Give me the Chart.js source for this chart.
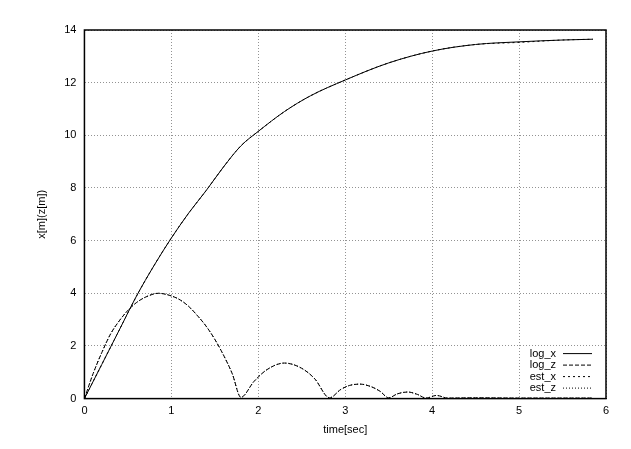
<!DOCTYPE html>
<html><head><meta charset="utf-8">
<script src="https://cdn.jsdelivr.net/npm/chart.js@4/dist/chart.umd.min.js"></script>
<style>html,body{margin:0;background:#fff}</style></head>
<body><canvas id="c" width="631" height="449"></canvas>
<script>
const xT=[0,0.2,0.4,0.6,0.8,1.0,1.2,1.4,1.6,1.8,2.0,2.3,2.6,3.0,3.5,4.0,4.5,5.0,5.5,5.85];
const logX=[0,1.3,2.6,3.9,5.05,6.1,7.05,7.9,8.8,9.6,10.15,10.9,11.5,12.1,12.75,13.2,13.45,13.55,13.62,13.65];
const estX=[0,1.3,2.6,3.9,5.05,6.1,7.05,7.9,8.8,9.6,10.15,10.9,11.5,12.1,12.75,13.2,13.45,13.53,13.62,13.65];
const zT=[0,0.1,0.2,0.3,0.4,0.5,0.6,0.7,0.85,1.0,1.1,1.2,1.3,1.4,1.5,1.6,1.7,1.8,1.95,2.1,2.3,2.5,2.65,2.82,2.95,3.05,3.17,3.3,3.4,3.5,3.6,3.72,3.83,3.93,4.05,4.18,4.5,5.0,5.5,5.85];
const logZ=[0,0.95,1.75,2.45,2.95,3.35,3.65,3.85,4.0,3.9,3.75,3.5,3.15,2.75,2.25,1.65,0.95,0.05,0.65,1.1,1.35,1.15,0.75,0.03,0.35,0.5,0.55,0.45,0.28,0.03,0.18,0.25,0.16,0.02,0.12,0.02,0.03,0.02,0.02,0.02];
const estZ=[0,0.95,1.75,2.45,2.95,3.35,3.65,3.85,4.0,3.9,3.75,3.5,3.15,2.75,2.25,1.65,0.95,0.05,0.65,1.1,1.35,1.15,0.75,0.03,0.35,0.5,0.55,0.45,0.28,0.03,0.18,0.25,0.16,0.02,0.12,0.02,0.03,0.02,0.02,0.02];
const names=['log_x','log_z','est_x','est_z'];
const dashes=[[],[4,2],[2,3],[1,2]];
const pts=(t,v)=>t.map((x,i)=>({x,y:v[i]}));
const sets=[pts(xT,logX),pts(zT,logZ),pts(xT,estX),pts(zT,estZ)];
const F={size:11,family:'Liberation Sans'};
const legendPlugin={id:'lg',afterDraw(ch){const a=ch.chartArea,c=ch.ctx;c.save();
c.setLineDash([]);c.strokeStyle='#000';c.lineWidth=1.5;c.strokeRect(a.left,a.top,a.right-a.left,a.bottom-a.top);
c.font='11px "Liberation Sans",Arial';c.textAlign='right';c.textBaseline='middle';
names.forEach((n,i)=>{const y=a.bottom-45+i*11.5;c.fillStyle='#000';c.fillText(n,a.right-50,y);c.beginPath();c.setLineDash(dashes[i]);c.lineWidth=1;c.moveTo(a.right-43,y);c.lineTo(a.right-14,y);c.stroke();});c.restore();}};
new Chart(document.getElementById('c'),{type:'scatter',
data:{datasets:sets.map((d,i)=>({label:names[i],data:d,showLine:true,pointRadius:0,borderColor:'#000',borderWidth:1,borderDash:dashes[i],cubicInterpolationMode:'monotone'}))},
options:{responsive:false,animation:false,layout:{padding:{top:30,right:25,bottom:12,left:27}},
plugins:{legend:{display:false},tooltip:{enabled:false}},
scales:{x:{type:'linear',min:0,max:6,ticks:{stepSize:1,color:'#000',font:F,padding:6},border:{display:true,color:'#000',dash:[1,2]},grid:{color:'#777',lineWidth:0.8,tickLength:0},title:{display:true,text:'time[sec]',color:'#000',font:F,padding:0}},
y:{min:0,max:14,ticks:{stepSize:2,color:'#000',font:F,padding:8},border:{display:true,color:'#000',dash:[1,2]},grid:{color:'#777',lineWidth:0.8,tickLength:0},title:{display:true,text:'x[m](z[m])',color:'#000',font:F,padding:8}}}},
plugins:[legendPlugin]});
</script></body></html>
